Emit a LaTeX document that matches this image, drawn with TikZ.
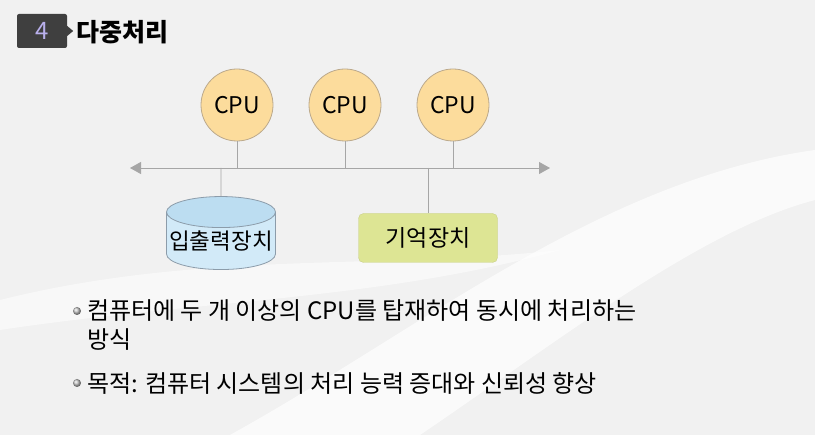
\documentclass[tikz,border=0pt]{standalone}
\usepackage{fontspec}
\setmainfont{Noto Sans CJK KR}
\usetikzlibrary{arrows,arrows.meta,positioning,shapes.geometric}
\definecolor{bgray}{HTML}{F1F1F1}
\definecolor{badge}{HTML}{3F3F3F}
\definecolor{badgenum}{HTML}{B9B0EC}
\definecolor{cpufill}{HTML}{FCDC9C}
\definecolor{cpuline}{HTML}{BBA98C}
\definecolor{busline}{HTML}{A6A6A6}
\definecolor{memfill}{HTML}{DDE594}
\definecolor{memline}{HTML}{C9CF86}
\definecolor{diskend}{HTML}{BCDDF1}
\definecolor{diskbody}{HTML}{D2EAF8}
\definecolor{diskline}{HTML}{8C9CAA}
\tikzset{
    cpu/.style={
           circle,
           draw=cpuline, thick,
           fill=cpufill,
           minimum size=72pt, inner sep=0pt,
           font=\fontsize{23}{26}\selectfont,
           },
    memory/.style={
           rectangle,
           rounded corners=5pt,
           draw=memline, fill=memfill,
           minimum width=139pt, minimum height=49pt,
           font=\fontsize{23}{26}\selectfont,
           },
    disk/.style={
           cylinder, shape border rotate=90, aspect=0.3,
           draw=diskline, thick,
           cylinder uses custom fill,
           cylinder end fill=diskend, cylinder body fill=diskbody,
           minimum width=109pt, minimum height=73pt, inner sep=0pt,
           font=\fontsize{22.5}{26}\selectfont,
           },
    bullettext/.style={
           anchor=west, align=left, inner sep=0pt,
           font=\fontsize{24}{29}\selectfont,
           },
    dot/.style={circle, inner sep=0pt, minimum size=8pt, ball color=gray!45},
}

\begin{document}
\begin{tikzpicture}[x=1pt,y=-1pt,>={Triangle[length=11pt,width=12pt]},node distance=108pt]
	\useasboundingbox (0,0) rectangle (815,435);
	\fill[bgray] (0,0) rectangle (815,435);
	% soft white swooshes of the slide
	\fill[white,opacity=0.7] (815,150) .. controls (600,180) and (420,330) .. (230,435)
		-- (420,435) .. controls (560,340) and (700,230) .. (815,200) -- cycle;
	\fill[white,opacity=0.5] (0,300) .. controls (200,250) and (380,270) .. (560,250)
		.. controls (380,300) and (200,300) .. (0,330) -- cycle;

	% title
	\node[fill=badge,rounded corners=2pt,minimum width=50pt,minimum height=34pt,
		text=badgenum,font=\fontsize{24}{26}\selectfont] (num) at (42,31) {4};
	\fill[badge] (num.east) ++(0,-5) -- ++(6,5) -- ++(-6,5) -- cycle;
	\node[anchor=west,inner sep=0pt,font=\fontsize{25}{28}\selectfont\bfseries]
		(title) at (76,32) {다중처리};

	% processors and bus
	\node[cpu] (cpu1) at (237,105) {CPU};
	\node[cpu] (cpu2) [right of=cpu1] {CPU};
	\node[cpu] (cpu3) [right of=cpu2] {CPU};
	\coordinate (busL) at (130,168);
	\coordinate (busR) at (550,168);
	\draw[<->,busline,thick] (busL) -- (busR);

	\node[disk] (io) at (221,241) {입출력장치};
	\node[memory] (mem) at (428,238) {기억장치};

	\draw[busline,thick] (cpu1) -- (cpu1 |- busL);
	\draw[busline,thick] (cpu2) -- (cpu2 |- busL);
	\draw[busline,thick] (cpu3) -- (cpu3 |- busL);
	\draw[busline,thick] (io |- busL) -- (io.north);
	\draw[busline,thick] (mem |- busL) -- (mem.north);

	% bullets
	\node[dot] (d1) at (77,311) {};
	\node[bullettext] (t1) at (87,325.5)
		{컴퓨터에 두 개 이상의 CPU를 탑재하여 동시에 처리하는\\방식};
	\node[dot] (d2) at (77,383) {};
	\node[bullettext] (t2) at (87,383) {목적: 컴퓨터 시스템의 처리 능력 증대와 신뢰성 향상};
\end{tikzpicture}
\end{document}
